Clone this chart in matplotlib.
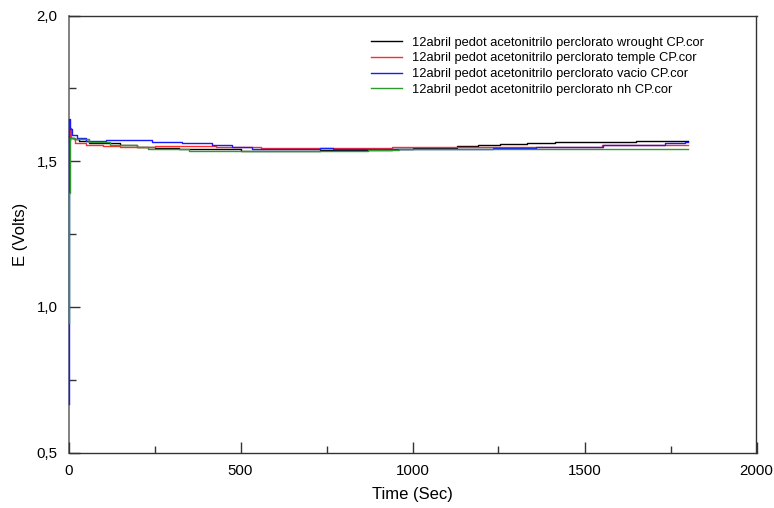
import matplotlib
matplotlib.use("Agg")
import matplotlib.pyplot as plt
from matplotlib.ticker import MultipleLocator, FuncFormatter

plt.rcParams['font.family'] = ['Liberation Sans', 'DejaVu Sans']

labels = [
    "12abril pedot acetonitrilo perclorato wrought CP.cor",
    "12abril pedot acetonitrilo perclorato temple CP.cor",
    "12abril pedot acetonitrilo perclorato vacio CP.cor",
    "12abril pedot acetonitrilo perclorato nh CP.cor",
]
colors = ["#000000", "#ff2a2a", "#1a1aff", "#2e9a2e"]

t_wrought = [0, 5, 15, 30, 60, 150, 200, 250, 320, 500, 730, 855, 940, 1000, 1130, 1190, 1253, 1334, 1413, 1651, 1800]
e_wrought = [1.585, 1.580, 1.575, 1.568, 1.564, 1.555, 1.549, 1.545, 1.541, 1.536, 1.537, 1.540, 1.541, 1.545, 1.551, 1.555, 1.558, 1.562, 1.565, 1.569, 1.569]

t_temple = [0, 3, 8, 20, 50, 100, 150, 250, 330, 430, 560, 680, 940, 1300, 1550, 1740, 1800]
e_temple = [1.570, 1.615, 1.580, 1.563, 1.556, 1.551, 1.549, 1.551, 1.553, 1.549, 1.545, 1.546, 1.548, 1.549, 1.554, 1.556, 1.556]

t_vacio = [0, 0.3, 3, 10, 25, 50, 110, 243, 330, 418, 476, 534, 573, 730, 770, 960, 1233, 1360, 1407, 1553, 1651, 1734, 1792, 1800]
e_vacio = [0.668, 1.646, 1.610, 1.590, 1.580, 1.569, 1.572, 1.566, 1.561, 1.555, 1.549, 1.543, 1.542, 1.544, 1.542, 1.542, 1.546, 1.550, 1.548, 1.554, 1.557, 1.562, 1.566, 1.566]

t_nh = [0, 0.3, 3, 15, 60, 120, 200, 230, 350, 870, 960, 1800]
e_nh = [0.946, 1.390, 1.578, 1.575, 1.567, 1.557, 1.547, 1.541, 1.534, 1.537, 1.542, 1.542]

series = [(t_wrought, e_wrought), (t_temple, e_temple), (t_vacio, e_vacio), (t_nh, e_nh)]

x_label = "Time (Sec)"
y_label = "E (Volts)"

fig = plt.figure(figsize=(7.74, 5.08), dpi=100)
ax = fig.add_axes([68.5/774, 1-452.5/508, 688/774, 437/508])

for (t, e), c, lab in zip(series, colors, labels):
    ax.plot(t, e, color=c, lw=1.0, drawstyle='steps-post', label=lab,
            zorder=3, clip_on=False)

ax.set_xlim(0, 2000)
ax.set_ylim(0.5, 2.0)
ax.xaxis.set_major_locator(MultipleLocator(500))
ax.xaxis.set_minor_locator(MultipleLocator(250))
ax.yaxis.set_major_locator(MultipleLocator(0.5))
ax.yaxis.set_minor_locator(MultipleLocator(0.25))
ax.yaxis.set_major_formatter(FuncFormatter(lambda v, p: f"{v:.1f}".replace('.', ',')))
ax.xaxis.set_major_formatter(FuncFormatter(lambda v, p: f"{int(v)}"))

ax.tick_params(which='both', direction='in', top=False, right=False, color='#333333')
ax.tick_params(which='major', length=8, width=1, labelsize=10.8, pad=8)
ax.tick_params(which='minor', length=5, width=1)

for s in ['top', 'right', 'bottom']:
    ax.spines[s].set_color('#333333')
    ax.spines[s].set_linewidth(1.0)
ax.spines['left'].set_color('#777777')
ax.spines['left'].set_linewidth(1.3)
for sp in ax.spines.values():
    sp.set_zorder(1)

ax.set_xlabel(x_label, fontsize=12)
ax.set_ylabel(y_label, fontsize=12)
ax.xaxis.set_label_coords(0.5, -0.080)
ax.yaxis.set_label_coords(-0.059, 0.5)

ax.legend(loc='upper left', bbox_to_anchor=((372-69)/688, (452-36)/437),
          frameon=False, fontsize=9.3, handlelength=2.4, handletextpad=0.75,
          labelspacing=0.29, borderpad=0, borderaxespad=0)

fig.savefig("out.png", dpi=100)
